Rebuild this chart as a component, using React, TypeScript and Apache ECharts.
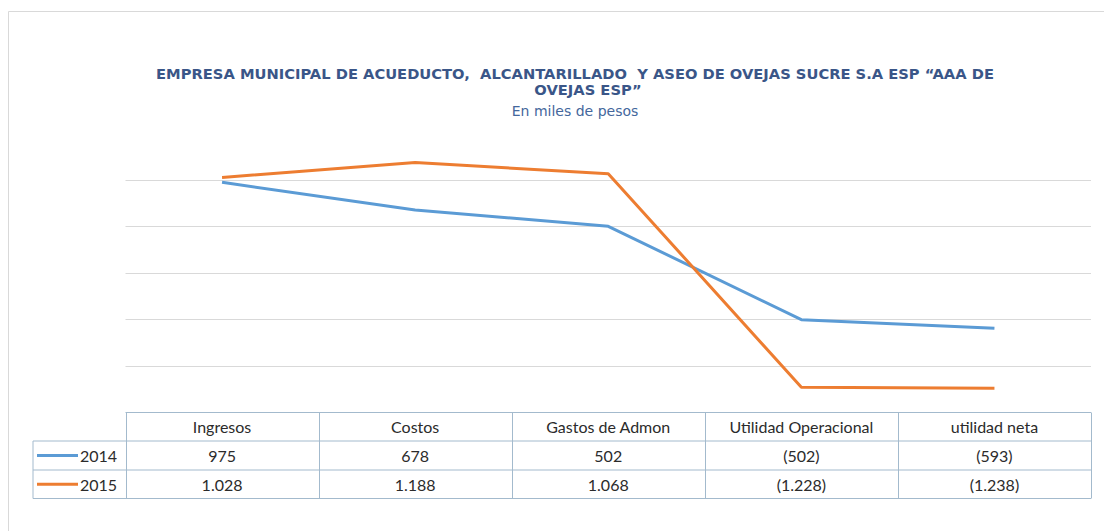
import React, { useEffect, useRef } from "react";
import * as echarts from "echarts";

const categories = ["Ingresos", "Costos", "Gastos de Admon", "Utilidad Operacional", "utilidad neta"];
const seriesNames = ["2014", "2015"];
const values2014 = [975, 678, 502, -502, -593];
const values2015 = [1028, 1188, 1068, -1228, -1238];
const seriesColors = ["#5b9bd5", "#ed7d31"];
const titleLine1 = "EMPRESA MUNICIPAL DE ACUEDUCTO,  ALCANTARILLADO  Y ASEO DE OVEJAS SUCRE S.A ESP \u201CAAA DE";
const titleLine2 = "OVEJAS ESP\u201D";
const subtitle = "En miles de pesos";

function fmt(v: number): string {
  const a = Math.abs(v);
  const s = a.toString().replace(/\B(?=(\d{3})+(?!\d))/g, ".");
  return v < 0 ? "(" + s + ")" : s;
}

export default function App() {
  const ref = useRef<HTMLDivElement>(null);
  useEffect(() => {
    if (!ref.current) return;
    const chart = echarts.init(ref.current, null, { renderer: "svg" });
    const W = 1104;
    const gridLeft = 125.5;
    const gridRight = 1091;
    const gridTop = 133.5;
    const gridBottomY = 412.5;
    const colW = (gridRight - gridLeft) / categories.length;
    const rowY = [412.5, 441, 470, 498.5];
    const legendLeft = 33;
    const borderColor = "#a3bacd";
    const textColor = "#2b2b2b";
    const tableFont = "Lato, 'Open Sans', sans-serif";
    const allSeries = [values2014, values2015];
    const titleFont = "bold 14.7px 'DejaVu Sans', Arial, sans-serif";

    const g: any[] = [];
    g.push({
      type: "rect",
      shape: { x: 8.5, y: 11.5, width: 1200, height: 700 },
      style: { fill: "none", stroke: "#d9d9d9", lineWidth: 1 },
      silent: true,
    });
    g.push({
      type: "text",
      x: 575,
      y: 73,
      style: { text: titleLine1, align: "center", verticalAlign: "middle", fill: "#3a5688", font: titleFont },
    });
    g.push({
      type: "text",
      x: 588,
      y: 89,
      style: { text: titleLine2, align: "center", verticalAlign: "middle", fill: "#3a5688", font: titleFont },
    });
    g.push({
      type: "text",
      x: 575,
      y: 111,
      style: {
        text: subtitle,
        align: "center",
        verticalAlign: "middle",
        fill: "#44679c",
        font: "14px 'DejaVu Sans', Arial, sans-serif",
      },
    });
    g.push({
      type: "line",
      shape: { x1: gridLeft, y1: rowY[0], x2: gridRight, y2: rowY[0] },
      style: { stroke: borderColor, lineWidth: 1 },
    });
    for (let r = 1; r < rowY.length; r++) {
      g.push({
        type: "line",
        shape: { x1: legendLeft, y1: rowY[r], x2: gridRight, y2: rowY[r] },
        style: { stroke: borderColor, lineWidth: 1 },
      });
    }
    g.push({
      type: "line",
      shape: { x1: legendLeft, y1: rowY[1], x2: legendLeft, y2: rowY[3] },
      style: { stroke: borderColor, lineWidth: 1 },
    });
    for (let c = 0; c <= categories.length; c++) {
      const x = Math.round(gridLeft + c * colW) + 0.5;
      g.push({
        type: "line",
        shape: { x1: x, y1: rowY[0], x2: x, y2: rowY[3] },
        style: { stroke: borderColor, lineWidth: 1 },
      });
    }
    for (let s = 0; s < allSeries.length; s++) {
      const cy = (rowY[s + 1] + rowY[s + 2]) / 2;
      g.push({
        type: "line",
        shape: { x1: 37, y1: cy, x2: 78, y2: cy },
        style: { stroke: seriesColors[s], lineWidth: 3 },
      });
      g.push({
        type: "text",
        x: 80,
        y: cy,
        style: {
          text: seriesNames[s],
          align: "left",
          verticalAlign: "middle",
          fill: textColor,
          font: "16px " + tableFont,
        },
      });
      allSeries[s].forEach((v, i) => {
        g.push({
          type: "text",
          x: gridLeft + (i + 0.5) * colW,
          y: cy,
          style: {
            text: fmt(v),
            align: "center",
            verticalAlign: "middle",
            fill: textColor,
            font: "16px " + tableFont,
          },
        });
      });
    }

    const splitColors = ["rgba(0,0,0,0)", "#d9d9d9", "#d9d9d9", "#d9d9d9", "#d9d9d9", "#d9d9d9", "rgba(0,0,0,0)"];

    chart.setOption({
      animation: false,
      backgroundColor: "#ffffff",
      grid: {
        left: gridLeft,
        right: W - gridRight,
        top: gridTop,
        bottom: 531 - gridBottomY,
        containLabel: false,
      },
      xAxis: {
        type: "category",
        data: categories,
        boundaryGap: true,
        axisLine: { show: false },
        axisTick: { show: false },
        axisLabel: {
          show: true,
          interval: 0,
          margin: 6,
          color: textColor,
          fontSize: 16,
          fontFamily: tableFont,
        },
      },
      yAxis: {
        type: "value",
        min: -1500,
        max: 1500,
        interval: 500,
        axisLine: { show: false },
        axisTick: { show: false },
        axisLabel: { show: false },
        splitLine: { show: true, lineStyle: { color: splitColors, width: 1 } },
      },
      series: [
        {
          name: seriesNames[0],
          type: "line",
          data: values2014,
          symbol: "none",
          lineStyle: { color: seriesColors[0], width: 3 },
          itemStyle: { color: seriesColors[0] },
        },
        {
          name: seriesNames[1],
          type: "line",
          data: values2015,
          symbol: "none",
          lineStyle: { color: seriesColors[1], width: 3 },
          itemStyle: { color: seriesColors[1] },
        },
      ],
      graphic: g,
    });
    return () => chart.dispose();
  }, []);
  return <div ref={ref} style={{ position: "absolute", left: 0, top: 0, width: 1104, height: 531 }} />;
}
